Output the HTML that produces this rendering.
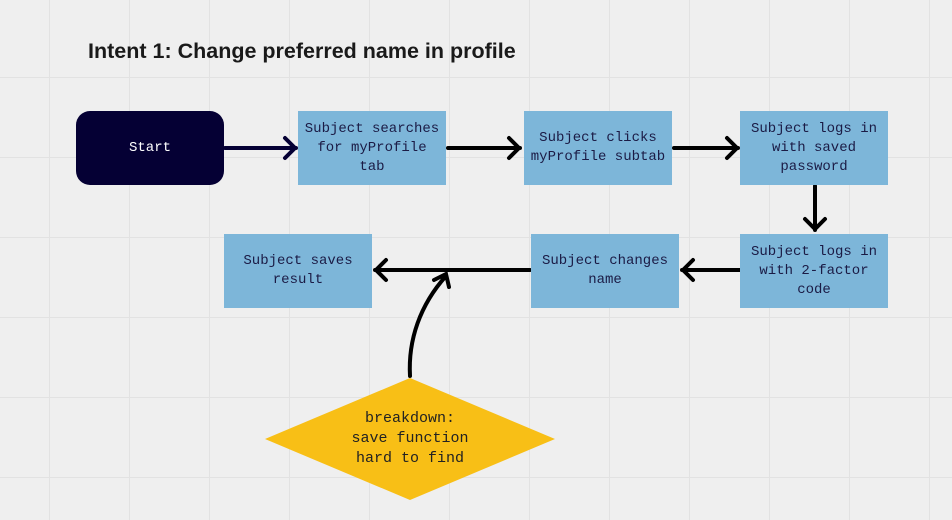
<!DOCTYPE html>
<html><head><style>
html,body{margin:0;padding:0}
body{width:952px;height:520px;position:relative;overflow:hidden;background:#efefef;
background-image:linear-gradient(#e2e2e2 1px,transparent 1px),linear-gradient(90deg,#e2e2e2 1px,transparent 1px);
background-size:80px 80px;background-position:49px 77px;font-family:"Liberation Mono",monospace}
.t{position:absolute;left:88px;top:39px;font:bold 21.5px "Liberation Sans",sans-serif;color:#1a1a1a}
.b{position:absolute;width:148px;height:74px;background:#7db6d9;display:flex;align-items:center;justify-content:center;text-align:center;font-size:14px;line-height:19px;color:#1b1b45}
.s{background:#050034;color:#fff;border-radius:14px}
svg{position:absolute;left:0;top:0}
.d{position:absolute;left:265px;top:378px;width:290px;height:122px;display:flex;align-items:center;justify-content:center;text-align:center;font-size:15px;line-height:20px;color:#222}
</style></head><body>
<div class="t">Intent 1: Change preferred name in profile</div>
<svg width="952" height="520">
<polygon points="410,378 555,439 410,500 265,439" fill="#f8bf16"/>
<g stroke="#000" stroke-width="4" fill="none" stroke-linecap="round">
<path d="M225,148H296M285,138l10,10-10,10" stroke="#050034"/>
<path d="M448,148H520M509,138l10,10-10,10"/>
<path d="M674,148H738M727,138l10,10-10,10"/>
<path d="M815,186V230M805,219l10,10 10,-10"/>
<path d="M740,270H682M693,260l-10,10 10,10"/>
<path d="M530,270H375M386,260l-10,10 10,10"/>
<path d="M410,376C408,340 420,305 446,276M434,280l12,-6 3,13"/>
</g>
</svg>
<div class="b s" style="left:76px;top:111px">Start</div>
<div class="b" style="left:298px;top:111px">Subject searches<br>for myProfile<br>tab</div>
<div class="b" style="left:524px;top:111px">Subject clicks<br>myProfile subtab</div>
<div class="b" style="left:740px;top:111px">Subject logs in<br>with saved<br>password</div>
<div class="b" style="left:740px;top:234px">Subject logs in<br>with 2-factor<br>code</div>
<div class="b" style="left:531px;top:234px">Subject changes<br>name</div>
<div class="b" style="left:224px;top:234px">Subject saves<br>result</div>
<div class="d">breakdown:<br>save function<br>hard to find</div>
</body></html>
